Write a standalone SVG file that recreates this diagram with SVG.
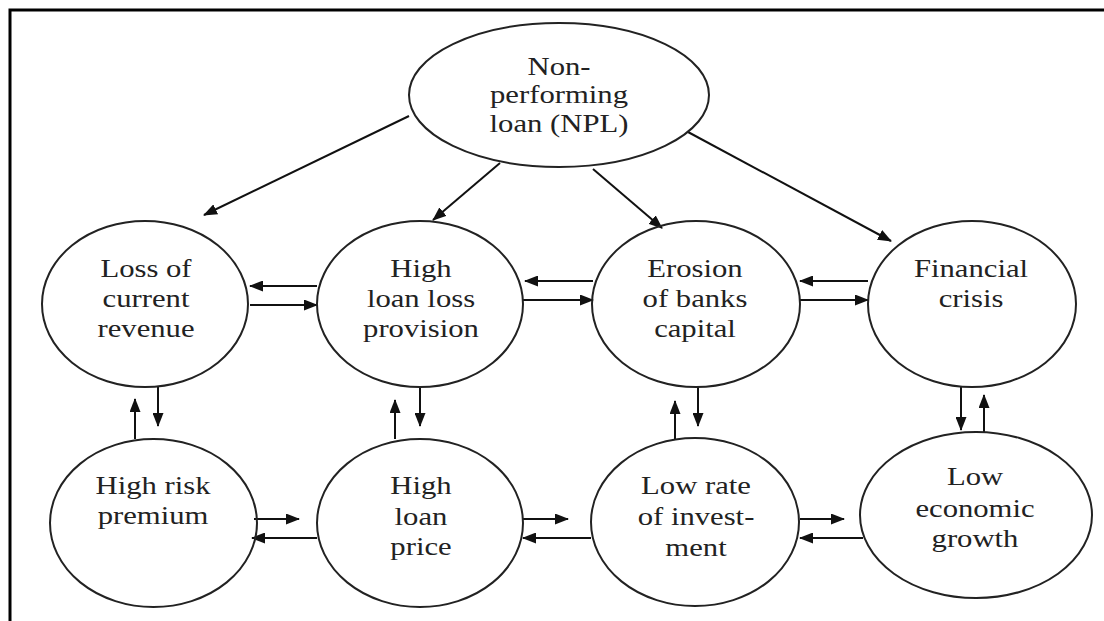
<svg xmlns="http://www.w3.org/2000/svg" width="1104" height="621" viewBox="0 0 1104 621">
<defs>
<marker id="ah" markerUnits="userSpaceOnUse" markerWidth="14" markerHeight="11" refX="13" refY="5.5" orient="auto">
<path d="M0,0 L14,5.5 L0,11 z" fill="#111"/>
</marker>
<style>
.node ellipse{fill:none;stroke:#222;stroke-width:2}
.node text{font-family:"Liberation Serif","Times New Roman",serif;font-size:26px;fill:#222;text-anchor:middle}
#connectors line{stroke:#111;stroke-width:2;marker-end:url(#ah)}
.frame{stroke:#000;stroke-width:3;fill:none}
</style>
</defs>
<rect x="0" y="0" width="1104" height="621" fill="#fff"/>
<path class="frame" d="M10,621 L10,10 L1104,10"/>
<g id="connectors">
<line x1="409" y1="116" x2="204" y2="215"/>
<line x1="500" y1="163" x2="433" y2="220"/>
<line x1="593" y1="169" x2="662" y2="228"/>
<line x1="688" y1="132" x2="891" y2="241"/>
<line x1="317" y1="286" x2="250" y2="286"/>
<line x1="250" y1="305" x2="317" y2="305"/>
<line x1="593" y1="281" x2="525" y2="281"/>
<line x1="523" y1="300" x2="593" y2="300"/>
<line x1="868" y1="281" x2="800" y2="281"/>
<line x1="800" y1="300" x2="868" y2="300"/>
<line x1="158" y1="387" x2="158" y2="426"/>
<line x1="135" y1="439" x2="135" y2="399"/>
<line x1="420" y1="388" x2="420" y2="426"/>
<line x1="395" y1="439" x2="395" y2="400"/>
<line x1="698" y1="387" x2="698" y2="426"/>
<line x1="675" y1="439" x2="675" y2="401"/>
<line x1="961" y1="387" x2="961" y2="430"/>
<line x1="984" y1="433" x2="984" y2="395"/>
<line x1="254" y1="519" x2="299" y2="519"/>
<line x1="317" y1="538" x2="252" y2="538"/>
<line x1="523" y1="519" x2="568" y2="519"/>
<line x1="591" y1="538" x2="523" y2="538"/>
<line x1="800" y1="519" x2="844" y2="519"/>
<line x1="863" y1="538" x2="800" y2="538"/>
</g>
<g id="npl" class="node">
<ellipse cx="559" cy="95" rx="150" ry="72"/>
<g transform="translate(559 0) scale(1.18 1)">
<text x="0" y="75">Non-</text>
<text x="0" y="103">performing</text>
<text x="0" y="132">loan (NPL)</text>
</g>
</g>
<g id="loss-revenue" class="node">
<ellipse cx="145" cy="304" rx="103" ry="83"/>
<g transform="translate(146 0) scale(1.18 1)">
<text x="0" y="277">Loss of</text>
<text x="0" y="307">current</text>
<text x="0" y="337">revenue</text>
</g>
</g>
<g id="loan-loss-provision" class="node">
<ellipse cx="420" cy="304" rx="103" ry="83"/>
<g transform="translate(421 0) scale(1.18 1)">
<text x="0" y="277">High</text>
<text x="0" y="307">loan loss</text>
<text x="0" y="337">provision</text>
</g>
</g>
<g id="erosion-capital" class="node">
<ellipse cx="696" cy="304" rx="104" ry="83"/>
<g transform="translate(695 0) scale(1.18 1)">
<text x="0" y="277">Erosion</text>
<text x="0" y="307">of banks</text>
<text x="0" y="337">capital</text>
</g>
</g>
<g id="financial-crisis" class="node">
<ellipse cx="972" cy="304" rx="104" ry="83"/>
<g transform="translate(971 0) scale(1.18 1)">
<text x="0" y="277">Financial</text>
<text x="0" y="307">crisis</text>
</g>
</g>
<g id="high-risk-premium" class="node">
<ellipse cx="153.5" cy="523" rx="103.5" ry="84"/>
<g transform="translate(153 0) scale(1.18 1)">
<text x="0" y="494">High risk</text>
<text x="0" y="524">premium</text>
</g>
</g>
<g id="high-loan-price" class="node">
<ellipse cx="420" cy="523" rx="103" ry="84"/>
<g transform="translate(421 0) scale(1.18 1)">
<text x="0" y="494">High</text>
<text x="0" y="525">loan</text>
<text x="0" y="555">price</text>
</g>
</g>
<g id="low-investment" class="node">
<ellipse cx="695" cy="522" rx="104" ry="84"/>
<g transform="translate(696 0) scale(1.18 1)">
<text x="0" y="494">Low rate</text>
<text x="0" y="525">of invest-</text>
<text x="0" y="556">ment</text>
</g>
</g>
<g id="low-growth" class="node">
<ellipse cx="976" cy="515" rx="116" ry="83"/>
<g transform="translate(975 0) scale(1.18 1)">
<text x="0" y="485">Low</text>
<text x="0" y="517">economic</text>
<text x="0" y="547">growth</text>
</g>
</g>
</svg>
